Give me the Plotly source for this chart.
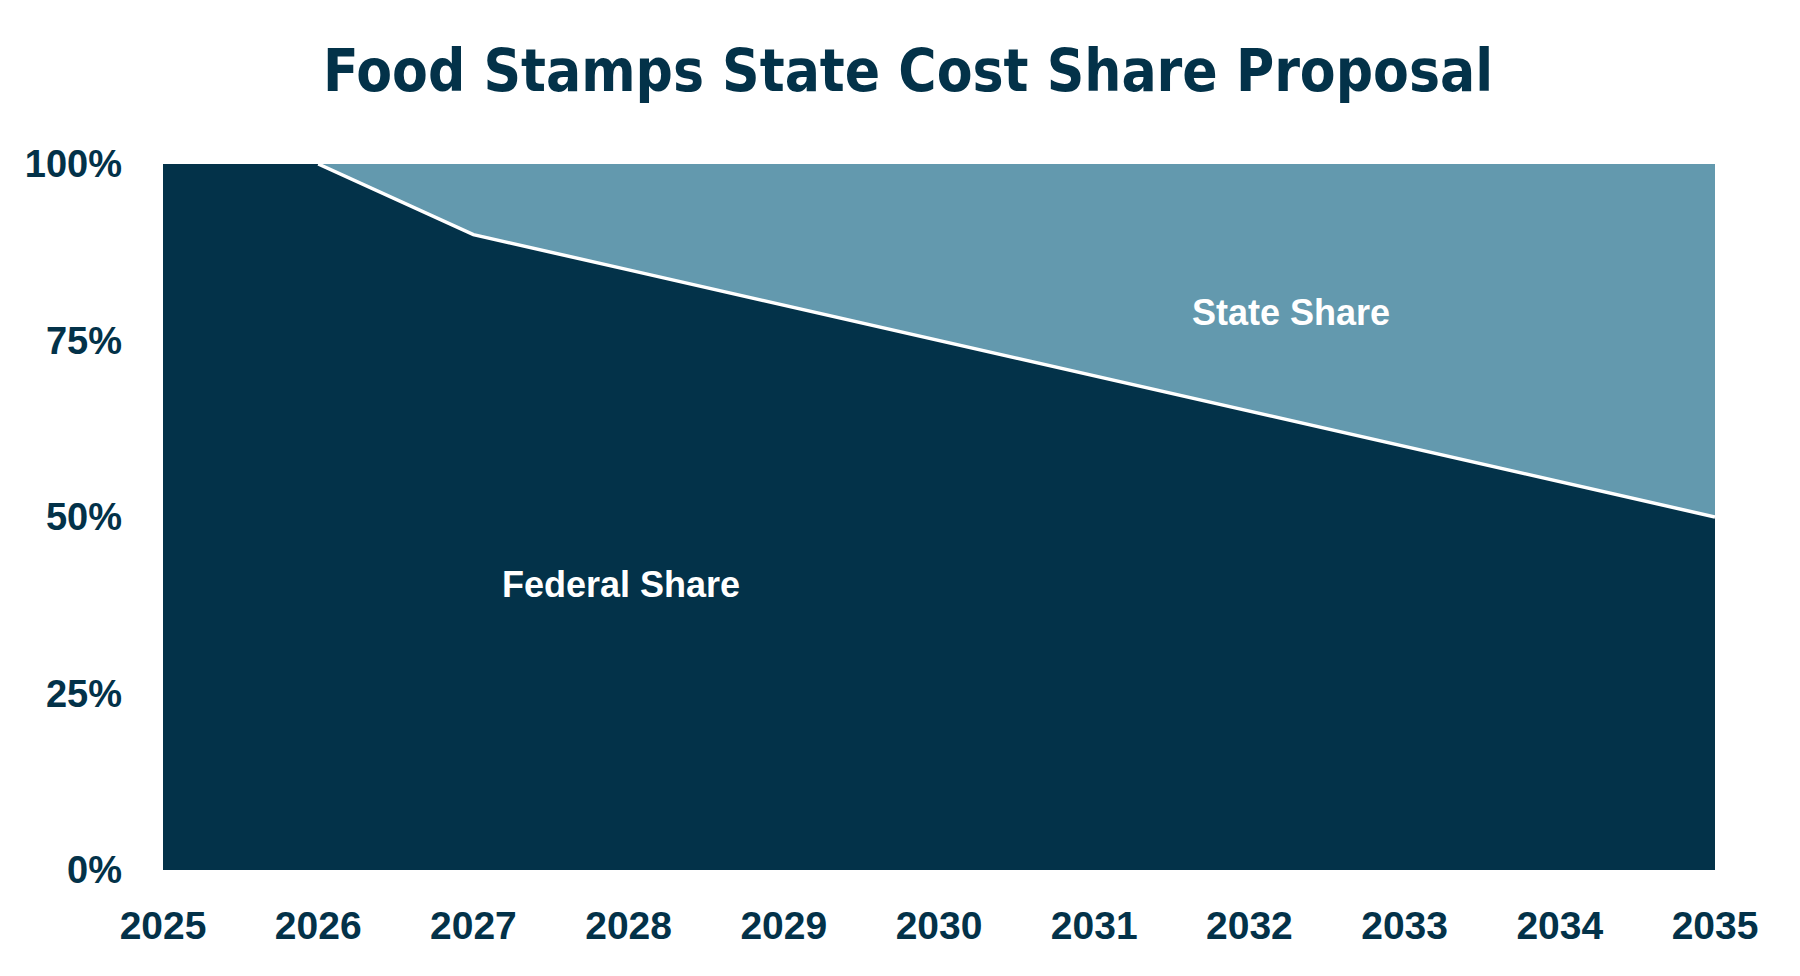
import plotly.graph_objects as go

# Federal vs state share of food stamp benefit costs
years = [2025, 2026, 2027, 2028, 2029, 2030, 2031, 2032, 2033, 2034, 2035]
federal_share = [100, 100, 90, 85, 80, 75, 70, 65, 60, 55, 50]
state_share = [100 - f for f in federal_share]

y_ticks = [0, 25, 50, 75, 100]
y_tick_labels = ["0%", "25%", "50%", "75%", "100%"]

DARK = "#033249"
LIGHT = "#6399AE"

fig = go.Figure()

fig.add_trace(go.Scatter(
    x=years, y=federal_share,
    stackgroup="share", mode="lines",
    line=dict(width=0, color=DARK),
    fillcolor=DARK, name="Federal Share",
))
fig.add_trace(go.Scatter(
    x=years, y=state_share,
    stackgroup="share", mode="lines",
    line=dict(width=0, color=LIGHT),
    fillcolor=LIGHT, name="State Share",
))
# white divider only where the two areas meet
fig.add_trace(go.Scatter(
    x=years[1:], y=federal_share[1:],
    mode="lines", line=dict(color="white", width=3.5),
    hoverinfo="skip",
))

fig.add_annotation(x=2027.95, y=40.5, text="Federal Share", showarrow=False,
                   font=dict(family="Liberation Sans", size=36, color="white", weight="bold"))
fig.add_annotation(x=2032.27, y=79, text="State Share", showarrow=False,
                   font=dict(family="Liberation Sans", size=36, color="white", weight="bold"))

fig.update_layout(
    width=1800, height=976,
    showlegend=False,
    plot_bgcolor="white", paper_bgcolor="white",
    margin=dict(l=155, r=93, t=156, b=114),
    title=dict(
        text="Food Stamps State Cost Share Proposal",
        x=0.5, xanchor="center", y=0.936, yanchor="middle",
        font=dict(family="DejaVu Sans Condensed", size=58, color=DARK, weight="bold"),
    ),
    xaxis=dict(
        range=[2025, 2035], tickmode="array", tickvals=years,
        showgrid=False, zeroline=False, showline=False,
        ticks="", ticklabelstandoff=29,
        tickfont=dict(family="Liberation Sans", size=39, color=DARK, weight="bold"),
    ),
    yaxis=dict(
        range=[0, 100], tickmode="array", tickvals=y_ticks, ticktext=y_tick_labels,
        showgrid=False, zeroline=False, showline=False,
        ticks="", ticklabelstandoff=40,
        tickfont=dict(family="Liberation Sans", size=38, color=DARK, weight="bold"),
    ),
)

fig.write_html("out.html")
